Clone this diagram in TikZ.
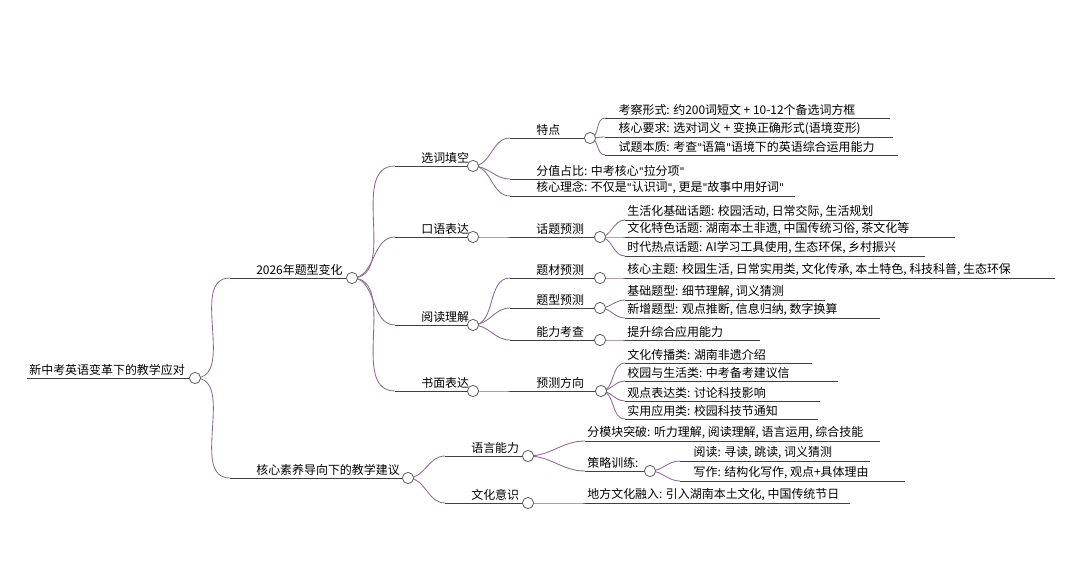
\documentclass[tikz,border=0pt]{standalone}
\usepackage{fontspec}
\setmainfont{Noto Sans CJK SC}[Ligatures=ResetAll]
\newfontfamily\quotefont{DejaVu Sans}[Ligatures=ResetAll, Scale=0.9]
\usetikzlibrary{positioning}

\tikzset{
  lbl/.style={anchor=south west, inner sep=1.5pt, font=\fontsize{8.5}{10}\selectfont},
  uline/.style={draw=black!75, line width=0.6pt},
  conn/.style={draw=black!45!violet!60, line width=0.6pt},
  dot/.style={circle, draw=black!60, fill=white, minimum size=8pt, inner sep=0pt, line width=0.6pt}
}
% topic: name, x start, x end, y, text
\newcommand\topic[5]{\node[lbl] (#1) at (#2,#4) {#5};
  \coordinate (#1-e) at (#3,#4);
  \draw[uline] (#1.south west) -- (#1-e);}
\newcommand\hub[1]{\node[dot] (#1-c) at (#1-e) {};}
\newcommand\link[2]{\draw[conn] (#1-e) to[out=0,in=180] (#2.south west);}
\newcommand\ind{\hspace{17pt}}
\newcommand\qm{{\quotefont\char"22}}

\begin{document}
\begin{tikzpicture}[x=0.025cm, y=-0.025cm]
  \useasboundingbox (0,0) rectangle (1080,564);

  \topic{root}{27}{195}{378}{新中考英语变革下的教学应对}
  \topic{chg}{230}{352}{278}{\ind 2026年题型变化}
  \topic{adv}{230}{408}{478}{\ind 核心素养导向下的教学建议}

  % 2026 changes
  \topic{fill}{395}{473}{166}{\ind 选词填空}
  \topic{oral}{395}{473}{237}{\ind 口语表达}
  \topic{read}{395}{473}{325}{\ind 阅读理解}
  \topic{write}{395}{473}{391}{\ind 书面表达}

  \topic{feat}{510}{590}{138}{\ind 特点}
  \topic{score}{510}{665}{179}{\ind 分值占比: 中考核心\qm 拉分项\qm}
  \topic{idea}{510}{795}{196}{\ind 核心理念: 不仅是\qm 认识词\qm, 更是\qm 故事中用好词\qm}
  \topic{f1}{605}{890}{118}{\hspace{8pt}考察形式: 约200词短文 + 10-12个备选词方框}
  \topic{f2}{605}{893}{137}{\hspace{8pt}核心要求: 选对词义 + 变换正确形式(语境变形)}
  \topic{f3}{605}{898}{155}{\hspace{8pt}试题本质: 考查\qm 语篇\qm 语境下的英语综合运用能力}

  \topic{topicp}{510}{600}{237}{\ind 话题预测}
  \topic{o1}{625}{900}{220}{生活化基础话题: 校园活动, 日常交际, 生活规划}
  \topic{o2}{625}{955}{237}{文化特色话题: 湖南本土非遗, 中国传统习俗, 茶文化等}
  \topic{o3}{625}{925}{256}{时代热点话题: AI学习工具使用, 生态环保, 乡村振兴}

  \topic{mat}{510}{600}{278}{\ind 题材预测}
  \topic{typ}{510}{600}{308}{\ind 题型预测}
  \topic{abil}{510}{600}{340}{\ind 能力考查}
  \topic{r1}{625}{1055}{278}{核心主题: 校园生活, 日常实用类, 文化传承, 本土特色, 科技科普, 生态环保}
  \topic{r2}{625}{825}{300}{基础题型: 细节理解, 词义猜测}
  \topic{r3}{625}{880}{318}{新增题型: 观点推断, 信息归纳, 数字换算}
  \topic{r4}{625}{760}{340}{提升综合应用能力}

  \topic{pred}{510}{601}{391}{\ind 预测方向}
  \topic{w1}{625}{812}{363}{文化传播类: 湖南非遗介绍}
  \topic{w2}{625}{838}{381}{校园与生活类: 中考备考建议信}
  \topic{w3}{625}{820}{401}{观点表达类: 讨论科技影响}
  \topic{w4}{625}{818}{419}{实用应用类: 校园科技节通知}

  % teaching advice
  \topic{lang}{445}{528}{456}{\ind 语言能力}
  \topic{cult}{445}{528}{503}{\ind 文化意识}
  \topic{l1}{585}{880}{441}{分模块突破: 听力理解, 阅读理解, 语言运用, 综合技能}
  \topic{strat}{585}{650}{471}{策略训练:}
  \topic{s1}{680}{870}{461}{\hspace{8pt}阅读: 寻读, 跳读, 词义猜测}
  \topic{s2}{680}{905}{481}{\hspace{8pt}写作: 结构化写作, 观点+具体理由}
  \topic{c1}{585}{850}{503}{地方文化融入: 引入湖南本土文化, 中国传统节日}

  \foreach \p/\c in {root/chg, root/adv, chg/fill, chg/oral, chg/read, chg/write,
      fill/feat, fill/score, fill/idea, feat/f1, feat/f2, feat/f3,
      oral/topicp, topicp/o1, topicp/o2, topicp/o3,
      read/mat, read/typ, read/abil, mat/r1, typ/r2, typ/r3, abil/r4,
      write/pred, pred/w1, pred/w2, pred/w3, pred/w4,
      adv/lang, adv/cult, lang/l1, lang/strat, strat/s1, strat/s2, cult/c1}
    {\link{\p}{\c}}

  \foreach \n in {root, chg, adv, fill, oral, read, write, feat, topicp,
      mat, typ, abil, pred, lang, cult, strat}
    {\hub{\n}}
\end{tikzpicture}
\end{document}
